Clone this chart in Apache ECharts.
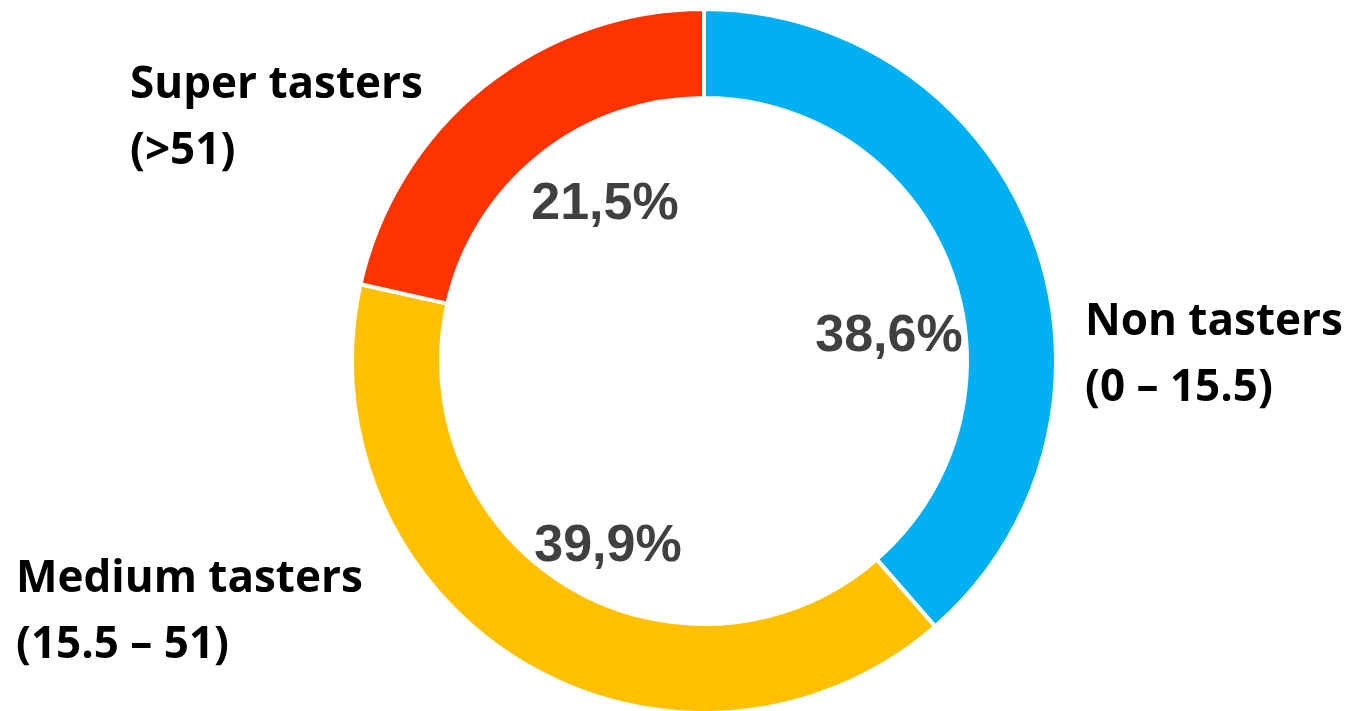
<!DOCTYPE html>
<html>
<head>
<meta charset="utf-8">
<style>
html,body{margin:0;padding:0;background:#fff;}
#chart{width:1351px;height:711px;}
</style>
<script src="https://cdn.jsdelivr.net/npm/echarts@6/dist/echarts.min.js"></script>
</head>
<body>
<div id="chart"></div>
<script>
// Data
var categories = ['Non tasters', 'Medium tasters', 'Super tasters'];
var ranges = ['(0 \u2013 15.5)', '(15.5 \u2013 51)', '(>51)'];
var shares = [38.6, 39.9, 21.5];
var colors = ['#00B0F0', '#FFC000', '#FF3300'];

// Label layout (positions of text only)
var nameLabelPos = [[1085, 355], [16, 612], [130, 118]];
var pctLabelPos = [[889, 337], [608, 547], [605, 205]];

var chart = echarts.init(document.getElementById('chart'), null, {renderer: 'canvas'});

var ringData = categories.map(function (c, i) {
  return { name: c, value: shares[i], itemStyle: { color: colors[i] } };
});

var option = {
  backgroundColor: '#ffffff',
  animation: false,
  series: [
    {
      type: 'pie',
      center: [704, 361],
      radius: [263, 352],
      startAngle: 90,
      clockwise: true,
      silent: true,
      itemStyle: { borderColor: '#ffffff', borderWidth: 4 },
      label: {
        show: true,
        position: 'outside',
        formatter: function (p) { return p.name + '\n' + ranges[p.dataIndex]; },
        fontFamily: 'Open Sans',
        fontWeight: 'bold',
        fontSize: 44,
        lineHeight: 66,
        color: '#000000',
        align: 'left'
      },
      labelLine: { show: false },
      labelLayout: function (params) {
        var p = nameLabelPos[params.dataIndex];
        return { x: p[0], y: p[1], align: 'left', verticalAlign: 'middle' };
      },
      data: ringData
    },
    {
      type: 'pie',
      center: [704, 361],
      radius: [0, 263],
      startAngle: 90,
      clockwise: true,
      silent: true,
      itemStyle: { color: 'rgba(0,0,0,0)', borderWidth: 0 },
      label: {
        show: true,
        position: 'inside',
        formatter: function (p) { return p.value.toFixed(1).replace('.', ',') + '%'; },
        fontFamily: 'Liberation Sans',
        fontWeight: 'bold',
        fontSize: 52,
        color: '#404040'
      },
      labelLine: { show: false },
      labelLayout: function (params) {
        var p = pctLabelPos[params.dataIndex];
        return { x: p[0], y: p[1], align: 'center', verticalAlign: 'middle' };
      },
      data: categories.map(function (c, i) { return { name: c, value: shares[i] }; })
    }
  ]
};
chart.setOption(option);
</script>
</body>
</html>
